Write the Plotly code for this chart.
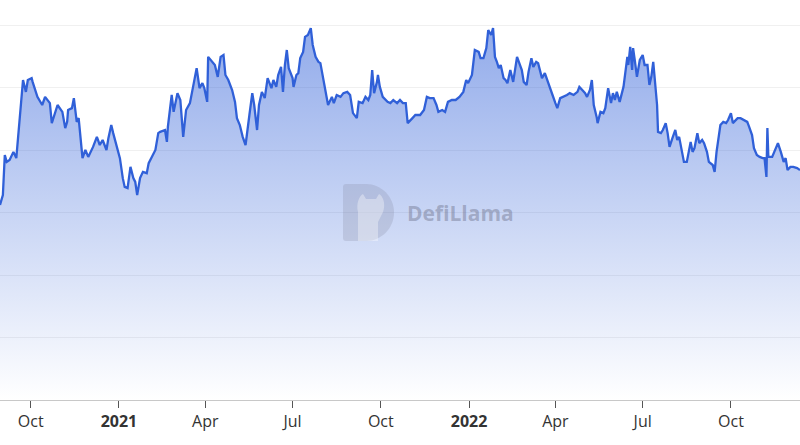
import pandas as pd
import plotly.graph_objects as go

# ---- data ----
start_date = "2020-08-30"
day_offset = [
    0, 3, 5, 7, 10, 14, 17, 19, 22, 24, 27, 29, 33, 34, 39, 42, 44, 47, 52, 54,
    57, 60, 65, 68, 70, 71, 75, 77, 80, 82, 86, 89, 92, 97, 101, 104, 107, 111, 113, 116,
    118, 122, 125, 128, 130, 133, 136, 139, 141, 143, 146, 149, 153, 155, 159, 162, 165,
    167, 172, 174, 175, 179, 181, 185, 188, 191, 194, 198, 201, 203, 205, 208, 211, 213,
    216, 217, 221, 224, 227, 230, 233, 235, 238, 242, 245, 247, 250, 253, 256, 258, 260,
    263, 265, 268, 270, 273, 276, 279, 283, 285, 288, 290, 293, 295, 297, 299, 301, 305,
    306, 309, 311, 313, 316, 318, 321, 324, 326, 329, 332,
    334, 337, 340, 342, 346, 348, 351, 355, 358, 362, 365, 368, 372, 374, 378, 381, 384,
    386, 388, 390, 393, 394, 396, 399, 404, 407, 410, 414, 417, 420, 423, 425, 430, 433,
    438, 442, 445, 448, 452, 455, 457, 461, 464, 467, 471, 475, 479, 483, 486, 488, 492,
    495, 499,
    501, 504, 507, 509, 512, 514, 516, 518, 520, 522, 525, 527, 529, 532, 535, 539, 541,
    544, 546, 549, 551, 554, 556, 559, 561, 565, 568, 572, 576, 579, 581, 584, 587, 591,
    594, 598, 602, 604, 607, 610, 612, 615, 617, 619, 622, 623, 626, 629, 631, 634, 637,
    639, 641, 643, 646, 650, 652, 654, 655, 657, 659, 660, 662, 664,
    667, 670, 672, 675, 677, 679, 681, 683, 685, 686, 689, 691, 694, 696, 698, 701, 704,
    706, 708, 711, 713, 716, 720, 722, 724, 727, 729, 732, 734, 737, 739, 743, 745, 747,
    749, 751, 754, 757, 759, 762, 764, 769, 772, 775, 779, 781, 784, 786, 789, 792, 795,
    797, 799, 800, 801, 805, 808, 811, 814, 817, 819, 821, 824, 827, 831, 834,
]
value = [
    3.12, 3.28, 3.92, 3.81, 3.84, 3.97, 3.87, 4.24, 4.67, 5.12, 4.93, 5.12, 5.15, 5.09, 4.85, 4.77, 4.72, 4.85, 4.75, 4.43,
    4.59, 4.72, 4.61, 4.35, 4.45, 4.64, 4.67, 4.83, 4.45, 4.51, 3.87, 4.00, 3.89, 4.05, 4.21, 4.08, 4.16, 4.00, 4.19, 4.40,
    4.27, 4.03, 3.87, 3.55, 3.41, 3.39, 3.73, 3.55, 3.49, 3.28, 3.55, 3.65, 3.63, 3.79, 3.92, 4.00, 4.27,
    4.29, 4.32, 4.13, 4.37, 4.88, 4.61, 4.91, 4.80, 4.21, 4.64, 4.75, 4.99, 5.17, 5.31, 4.99, 5.07, 4.99,
    4.77, 5.49, 5.41, 5.36, 5.17, 5.49, 5.52, 5.20, 5.12, 4.96, 4.77, 4.51, 4.40, 4.21, 4.08, 4.29, 4.56,
    4.91, 4.72, 4.32, 4.72, 4.93, 4.83, 5.15, 4.99, 5.12, 5.01, 5.20, 5.33, 4.93, 5.36, 5.60, 5.31, 5.15,
    5.01, 5.20, 5.23, 5.47, 5.57, 5.81, 5.84, 5.95, 5.68, 5.49, 5.41,
    5.39, 5.15, 4.93, 4.72, 4.85, 4.75, 4.88, 4.85, 4.91, 4.93, 4.88, 4.59, 4.51, 4.77, 4.75, 4.85, 4.80,
    4.88, 5.28, 4.91, 5.09, 5.20, 5.01, 4.85, 4.77, 4.75, 4.80, 4.75, 4.80, 4.75, 4.75, 4.43, 4.51, 4.56,
    4.56, 4.64, 4.85, 4.83, 4.83, 4.72, 4.61, 4.64, 4.61, 4.77, 4.80, 4.80, 4.85, 4.93, 5.12, 5.07, 5.20,
    5.60, 5.57,
    5.47, 5.47, 5.63, 5.92, 5.84, 5.95, 5.49, 5.41, 5.31, 5.36, 5.15, 5.12, 5.07, 5.28, 5.09, 5.49, 5.41,
    5.28, 5.09, 5.04, 5.25, 5.47, 5.33, 5.41, 5.39, 5.15, 5.23, 5.07, 4.88, 4.75, 4.67, 4.83, 4.85, 4.88,
    4.91, 4.88, 4.93, 5.01, 4.96, 4.91, 4.85, 4.96, 5.12, 4.72, 4.53, 4.43, 4.61, 4.59, 4.67, 4.99, 4.75,
    4.91, 4.80, 4.93, 4.77, 5.01, 5.25, 5.49, 5.36, 5.65, 5.28, 5.63, 5.41, 5.17,
    5.44, 5.52, 5.36, 5.36, 5.04, 5.17, 5.41, 5.01, 4.72, 4.29, 4.27, 4.32, 4.43, 4.27, 4.05, 4.19, 4.32,
    4.16, 4.21, 3.97, 3.81, 3.81, 4.13, 3.97, 4.03, 4.27, 4.11, 4.16, 4.11, 3.97, 3.81, 3.76, 3.65, 3.97,
    4.19, 4.40, 4.45, 4.43, 4.48, 4.59, 4.43, 4.51, 4.51, 4.48, 4.45, 4.37, 4.24, 4.03, 3.92, 3.89, 3.87,
    3.87, 3.57, 4.35, 3.89, 3.89, 4.00, 4.11, 3.97, 3.81, 3.87, 3.68, 3.73, 3.73, 3.71, 3.68,
]
tick_dates = ["2020-10-01", "2021-01-01", "2021-04-01", "2021-07-01", "2021-10-01",
              "2022-01-01", "2022-04-01", "2022-07-01", "2022-10-01"]
tick_labels = ["Oct", "<b>2021</b>", "Apr", "Jul", "Oct", "<b>2022</b>", "Apr", "Jul", "Oct"]
next_year_date = "2023-01-01"
next_year_label = "<b>2023</b>"

dates = pd.Timestamp(start_date) + pd.to_timedelta(day_offset, unit="D")

LINE = "#3060d8"

fig = go.Figure()
fig.add_trace(go.Scatter(
    x=dates, y=value, mode="lines",
    line=dict(color=LINE, width=2.3),
    fill="tozeroy",
    fillgradient=dict(
        type="vertical", start=0, stop=6.2,
        colorscale=[[0, "rgba(48,96,216,0.0)"], [1, "rgba(48,96,216,0.55)"]],
    ),
    hoverinfo="skip",
))

x0, x1 = dates[0], dates[-1]
fig.update_xaxes(
    range=[x0, x1], tickmode="array", tickvals=tick_dates, ticktext=tick_labels,
    showgrid=False, showline=True, linecolor="#c8c8c8", linewidth=1,
    ticks="outside", ticklen=7, tickcolor="#555", tickwidth=1,
    tickfont=dict(family="Open Sans", size=16, color="#333"),
    zeroline=False,
)
fig.update_yaxes(
    range=[0, 6.4], dtick=1, showticklabels=False, showgrid=True,
    gridcolor="#f0f0f0", gridwidth=1, zeroline=False, showline=False,
)

# partially visible next-year label, placed via the axis scale
frac = (pd.Timestamp(next_year_date) - x0) / (x1 - x0)
fig.add_annotation(x=frac, xref="paper", y=0, yref="paper", yshift=-18,
                   text=next_year_label, showarrow=False, xanchor="center", yanchor="middle",
                   font=dict(family="Open Sans", size=16, color="#222"))

# DefiLlama watermark
def px(x):
    return x / 800

def py(y):
    return (400 - y) / 400

d_path = (f"M {px(346)},{py(184)} L {px(366)},{py(184)} "
          f"C {px(381.4)},{py(184)} {px(394)},{py(196.8)} {px(394)},{py(212.5)} "
          f"C {px(394)},{py(228.2)} {px(381.4)},{py(241)} {px(366)},{py(241)} "
          f"L {px(346)},{py(241)} Q {px(343)},{py(241)} {px(343)},{py(238)} "
          f"L {px(343)},{py(187)} Q {px(343)},{py(184)} {px(346)},{py(184)} Z")
fig.add_shape(type="path", path=d_path, xref="paper", yref="paper",
              fillcolor="rgba(130,135,160,0.25)", line=dict(width=0), layer="above")
llama = (f"M {px(358)},{py(241)} L {px(358)},{py(212)} "
         f"C {px(356)},{py(204)} {px(359)},{py(196)} {px(363)},{py(194)} "
         f"L {px(366)},{py(199)} L {px(376)},{py(199)} L {px(379)},{py(194)} "
         f"C {px(383)},{py(196)} {px(386)},{py(204)} {px(383)},{py(212)} "
         f"L {px(378)},{py(222)} L {px(378)},{py(241)} Z")
fig.add_shape(type="path", path=llama, xref="paper", yref="paper",
              fillcolor="rgba(255,255,255,0.35)", line=dict(width=0), layer="above")
fig.add_annotation(x=px(405), y=py(213), xref="paper", yref="paper", text="<b>DefiLlama</b>",
                   showarrow=False, xanchor="left", yanchor="middle",
                   font=dict(family="Open Sans", size=21, color="rgba(110,115,140,0.45)"))

fig.update_layout(
    width=800, height=445,
    margin=dict(l=0, r=0, t=0, b=45),
    paper_bgcolor="white", plot_bgcolor="white",
    showlegend=False,
)

fig.write_html("out.html",
               config={"displayModeBar": False},
               post_script="document.body.style.margin='0';document.body.style.padding='0';")
